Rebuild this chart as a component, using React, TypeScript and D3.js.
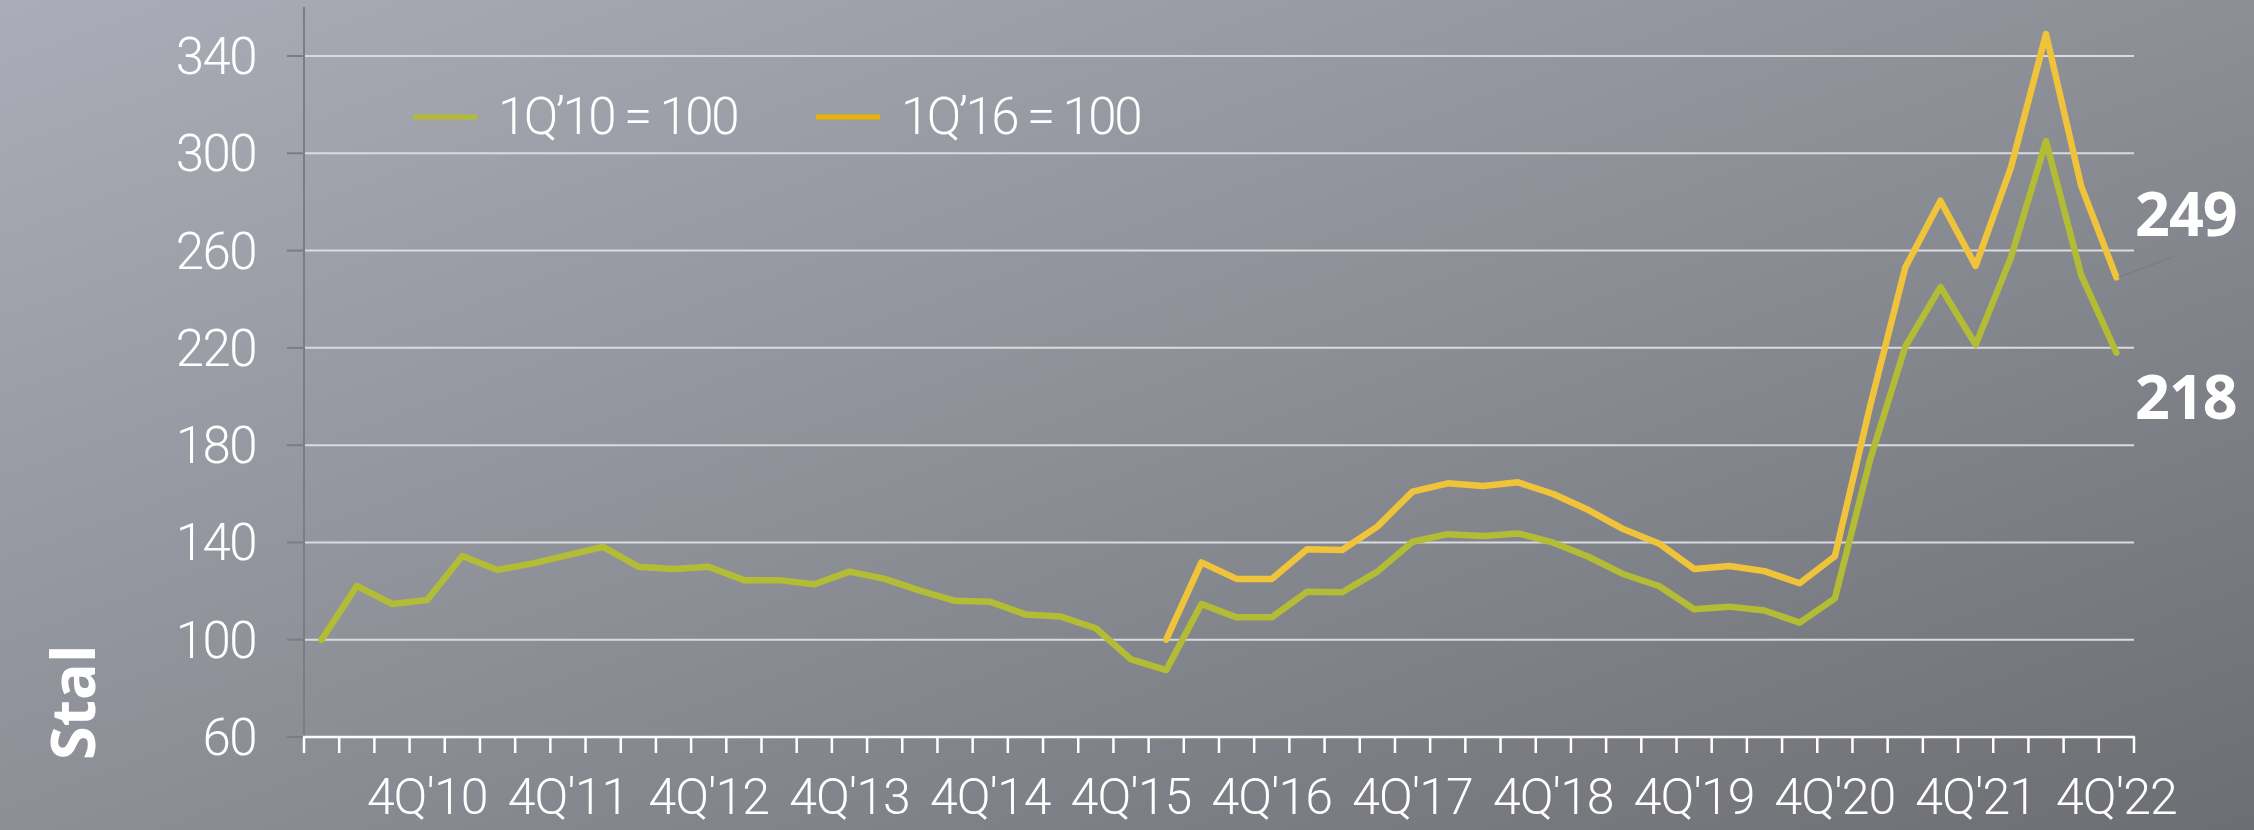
import React from "react";
import * as d3 from "d3";

const years = ["10", "11", "12", "13", "14", "15", "16", "17", "18", "19", "20", "21", "22"];
const quarterNames = ["1Q", "2Q", "3Q", "4Q"];
const categories: string[] = years.flatMap((y) => quarterNames.map((q) => `${q}'${y}`));

// 1Q'10 = 100 (green), 1Q'10 .. 4Q'22
const seriesBase2010 = [
  100, 122.1, 114.7, 116.3, 134.4, 128.7, 131.4, 134.8, 138.2, 130.0,
  129.1, 130.0, 124.5, 124.5, 122.8, 128.0, 125.0, 120.2, 116.0, 115.6,
  110.4, 109.5, 104.7, 91.9, 87.5, 114.7, 109.2, 109.2, 119.7, 119.5,
  128.0, 140.3, 143.4, 142.6, 143.7, 139.9, 134.1, 126.9, 122.1, 112.5,
  113.6, 112.0, 107.0, 117.0, 174.0, 220.5, 245.0, 221.3, 257.0, 305.0,
  249.9, 218.0,
];
// 1Q'16 = 100 (yellow), 1Q'16 .. 4Q'22
const seriesBase2016Start = "1Q'16";
const seriesBase2016 = [
  100, 131.8, 125.0, 125.0, 137.2, 136.9, 146.5, 160.9, 164.3, 163.2,
  164.7, 159.9, 153.3, 145.4, 139.6, 129.1, 130.3, 128.2, 123.2, 134.3,
  196.0, 253.0, 280.5, 253.7, 294.0, 349.0, 286.5, 249.0,
];

const yTicks = [60, 100, 140, 180, 220, 260, 300, 340];
const xLabelQuarter = "4Q";
const legendItems = [
  { label: "1Q’10 = 100", color: "#b3bb35" },
  { label: "1Q’16 = 100", color: "#e9b300" },
];
const endLabels = ["249", "218"];
const sideTitle = "Stal";

const W = 2254;
const H = 830;
const GREEN = "#b2bc35";
const YELLOW = "#efc43b";
const LIGHT_FONT = "Roboto, 'Open Sans', sans-serif";
const BOLD_FONT = "'Open Sans', 'Noto Sans', sans-serif";

export default function App() {
  const x = d3.scaleBand<string>().domain(categories).range([304, 2134]).padding(0);
  const y = d3.scaleLinear().domain([60, 340]).range([737, 56]);
  const cx = (c: string) => (x(c) as number) + x.bandwidth() / 2;

  const greenData = seriesBase2010.map((v, i) => ({ c: categories[i], v }));
  const startIdx = categories.indexOf(seriesBase2016Start);
  const yellowData = seriesBase2016.map((v, i) => ({ c: categories[startIdx + i], v }));

  const line = d3
    .line<{ c: string; v: number }>()
    .x((d) => cx(d.c))
    .y((d) => y(d.v));

  const [x0, x1] = x.range();
  const tickXs = [...categories.map((c) => x(c) as number), x1];

  const lastYellow = yellowData[yellowData.length - 1];
  const lastGreen = greenData[greenData.length - 1];

  return (
    <svg
      width={W}
      height={H}
      style={{ position: "absolute", left: 0, top: 0, display: "block" }}
    >
      <defs>
        <linearGradient id="bg" x1="0" y1="0" x2="1" y2="1">
          <stop offset="0" stopColor="#aaadb7" />
          <stop offset="0.5" stopColor="#8d8f97" />
          <stop offset="1" stopColor="#6c6e73" />
        </linearGradient>
      </defs>
      <rect x={0} y={0} width={W} height={H} fill="url(#bg)" />

      {/* grid lines */}
      {yTicks.slice(1).map((t) => (
        <line key={`g${t}`} x1={x0} x2={x1} y1={y(t)} y2={y(t)} stroke="#dadbde" strokeWidth={2} />
      ))}

      {/* y axis */}
      <line x1={x0} x2={x0} y1={7} y2={y(60)} stroke="#7c7d82" strokeWidth={2} />
      {yTicks.map((t) => (
        <g key={`yt${t}`}>
          <line x1={287} x2={x0} y1={y(t)} y2={y(t)} stroke="#7c7d82" strokeWidth={2} />
          <text
            x={256}
            y={y(t) + 18}
            textAnchor="end"
            fill="#ffffff"
            fontFamily={LIGHT_FONT}
            fontWeight={300}
            fontSize={51}
            letterSpacing={-1.5}
          >
            {t}
          </text>
        </g>
      ))}

      {/* x axis */}
      <line x1={x0 - 1} x2={x1 + 1} y1={y(60)} y2={y(60)} stroke="#ffffff" strokeWidth={2.5} />
      {tickXs.map((tx, i) => (
        <line key={`xt${i}`} x1={tx} x2={tx} y1={y(60)} y2={y(60) + 16} stroke="#ffffff" strokeWidth={2.5} />
      ))}
      {categories
        .filter((c) => c.startsWith(xLabelQuarter))
        .map((c) => (
          <text
            key={`xl${c}`}
            x={cx(c)}
            y={814}
            textAnchor="middle"
            fill="#ffffff"
            fontFamily={LIGHT_FONT}
            fontWeight={300}
            fontSize={50}
            letterSpacing={-1}
          >
            {c}
          </text>
        ))}

      {/* series */}
      <path
        d={line(greenData) || ""}
        fill="none"
        stroke={GREEN}
        strokeWidth={6.5}
        strokeLinejoin="round"
        strokeLinecap="round"
      />
      <path
        d={line(yellowData) || ""}
        fill="none"
        stroke={YELLOW}
        strokeWidth={6.5}
        strokeLinejoin="round"
        strokeLinecap="round"
      />

      {/* leader line to end label */}
      <line
        x1={cx(lastYellow.c) + 2}
        y1={y(lastYellow.v)}
        x2={cx(lastYellow.c) + 58}
        y2={y(lastYellow.v) - 21}
        stroke="#7a7c84"
        strokeWidth={1.2}
      />

      {/* end labels */}
      <text
        x={2135}
        y={y(lastYellow.v) - 41}
        fill="#ffffff"
        fontFamily={BOLD_FONT}
        fontWeight={700}
        fontSize={61}
        letterSpacing={-1}
      >
        {endLabels[0]}
      </text>
      <text
        x={2135}
        y={y(lastGreen.v) + 66}
        fill="#ffffff"
        fontFamily={BOLD_FONT}
        fontWeight={700}
        fontSize={61}
        letterSpacing={-1}
      >
        {endLabels[1]}
      </text>

      {/* legend */}
      {legendItems.map((it, i) => {
        const lx = 413 + i * 403;
        return (
          <g key={`lg${i}`}>
            <line x1={lx} x2={lx + 64} y1={117} y2={117} stroke={it.color} strokeWidth={5} />
            <text
              x={lx + 85}
              y={134}
              fill="#ffffff"
              fontFamily={LIGHT_FONT}
              fontWeight={300}
              fontSize={51}
              letterSpacing={-2.5}
            >
              {it.label}
            </text>
          </g>
        );
      })}

      {/* side title */}
      <text
        transform="translate(95,760) rotate(-90)"
        fill="#ffffff"
        fontFamily={BOLD_FONT}
        fontWeight={700}
        fontSize={61}
      >
        {sideTitle}
      </text>
    </svg>
  );
}
